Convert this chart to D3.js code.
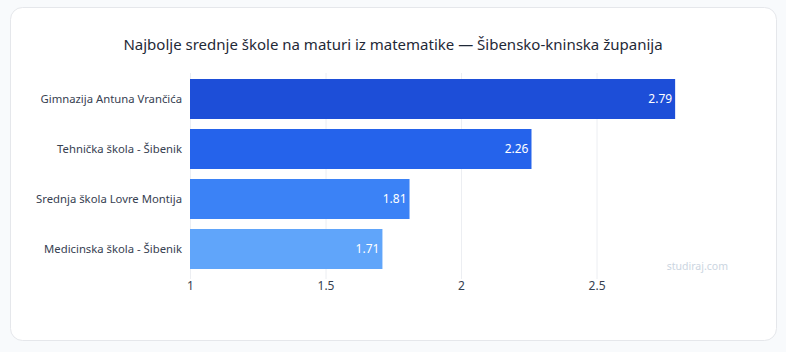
<!DOCTYPE html>
<html>
<head>
<meta charset="utf-8">
<script src="https://cdn.jsdelivr.net/npm/d3@7"></script>
<style>
  html, body { margin: 0; padding: 0; background: #f8fafc; }
  svg { display: block; font-family: "Segoe UI", "Noto Sans", "Open Sans", sans-serif; }
  .grid line { stroke: #eceef2; stroke-width: 1; }
  .label { fill: #374151; font-size: 11.3px; }
  .tick-label { fill: #374151; font-size: 12px; }
</style>
</head>
<body>
<div id="chart"></div>
<script>
// podaci
var schools = ["Gimnazija Antuna Vrančića", "Tehnička škola - Šibenik", "Srednja škola Lovre Montija", "Medicinska škola - Šibenik"];
var scores = [2.79, 2.26, 1.81, 1.71];
var colors = ["#1d4ed8", "#2563eb", "#3b82f6", "#60a5fa"];
var tickValues = [1, 1.5, 2, 2.5];
var title = "Najbolje srednje škole na maturi iz matematike — Šibensko-kninska županija";

var W = 786, H = 352;

var svg = d3.select("#chart").append("svg")
	.attr("width", W)
	.attr("height", H);

// kartica
svg.append("rect")
	.attr("x", 10.5).attr("y", 7.5)
	.attr("width", 766).attr("height", 333)
	.attr("rx", 12).attr("ry", 12)
	.attr("fill", "#ffffff")
	.attr("stroke", "#e5e7eb");

svg.append("text")
	.attr("x", 393)
	.attr("y", 50)
	.attr("text-anchor", "middle")
	.attr("fill", "#1f2937")
	.style("font-size", "15px")
	.text(title);

var x = d3.scaleLinear()
	.domain([1, 2.95])
	.range([190, 718.5]);

var y = d3.scaleBand()
	.domain(schools)
	.range([74, 274])
	.paddingInner(0.2)
	.paddingOuter(0.1);

// mreža
svg.append("g")
	.attr("class", "grid")
	.selectAll("line")
	.data(tickValues)
	.enter()
	.append("line")
	.attr("x1", function(d) { return x(d) + 0.5; })
	.attr("x2", function(d) { return x(d) + 0.5; })
	.attr("y1", 73)
	.attr("y2", 279);

var xAxis = d3.axisBottom(x)
	.tickValues(tickValues)
	.tickSize(0)
	.tickPadding(0)
	.tickFormat(function(d) { return d; });

var gx = svg.append("g")
	.attr("transform", "translate(0,279)")
	.call(xAxis);
gx.select(".domain").remove();
gx.selectAll("text")
	.attr("class", "tick-label")
	.attr("fill", null)
	.attr("dy", "0.9em")
	.style("font-size", "12px");
gx.attr("font-family", null).attr("font-size", null);

var yAxis = d3.axisLeft(y).tickSize(0).tickPadding(8);
var gy = svg.append("g")
	.attr("transform", "translate(190,0)")
	.call(yAxis);
gy.select(".domain").remove();
gy.attr("font-family", null).attr("font-size", null);
gy.selectAll("text")
	.attr("class", "label")
	.attr("fill", null);

// stupci
svg.selectAll(".bar")
	.data(schools)
	.enter()
	.append("rect")
	.attr("class", "bar")
	.attr("x", x(1))
	.attr("y", function(d) { return y(d); })
	.attr("width", function(d, i) { return x(scores[i]) - x(1); })
	.attr("height", y.bandwidth())
	.attr("fill", function(d, i) { return colors[i]; });

svg.selectAll(".value")
	.data(schools)
	.enter()
	.append("text")
	.attr("class", "value")
	.attr("x", function(d, i) { return x(scores[i]) - 3; })
	.attr("y", function(d) { return y(d) + y.bandwidth() / 2; })
	.attr("dy", "0.35em")
	.attr("text-anchor", "end")
	.attr("fill", "#ffffff")
	.style("font-size", "12px")
	.text(function(d, i) { return scores[i].toFixed(2); });

svg.append("text")
	.attr("x", 728)
	.attr("y", 270)
	.attr("text-anchor", "end")
	.attr("fill", "#cbd5e1")
	.style("font-size", "10.5px")
	.text("studiraj.com");
</script>
</body>
</html>
